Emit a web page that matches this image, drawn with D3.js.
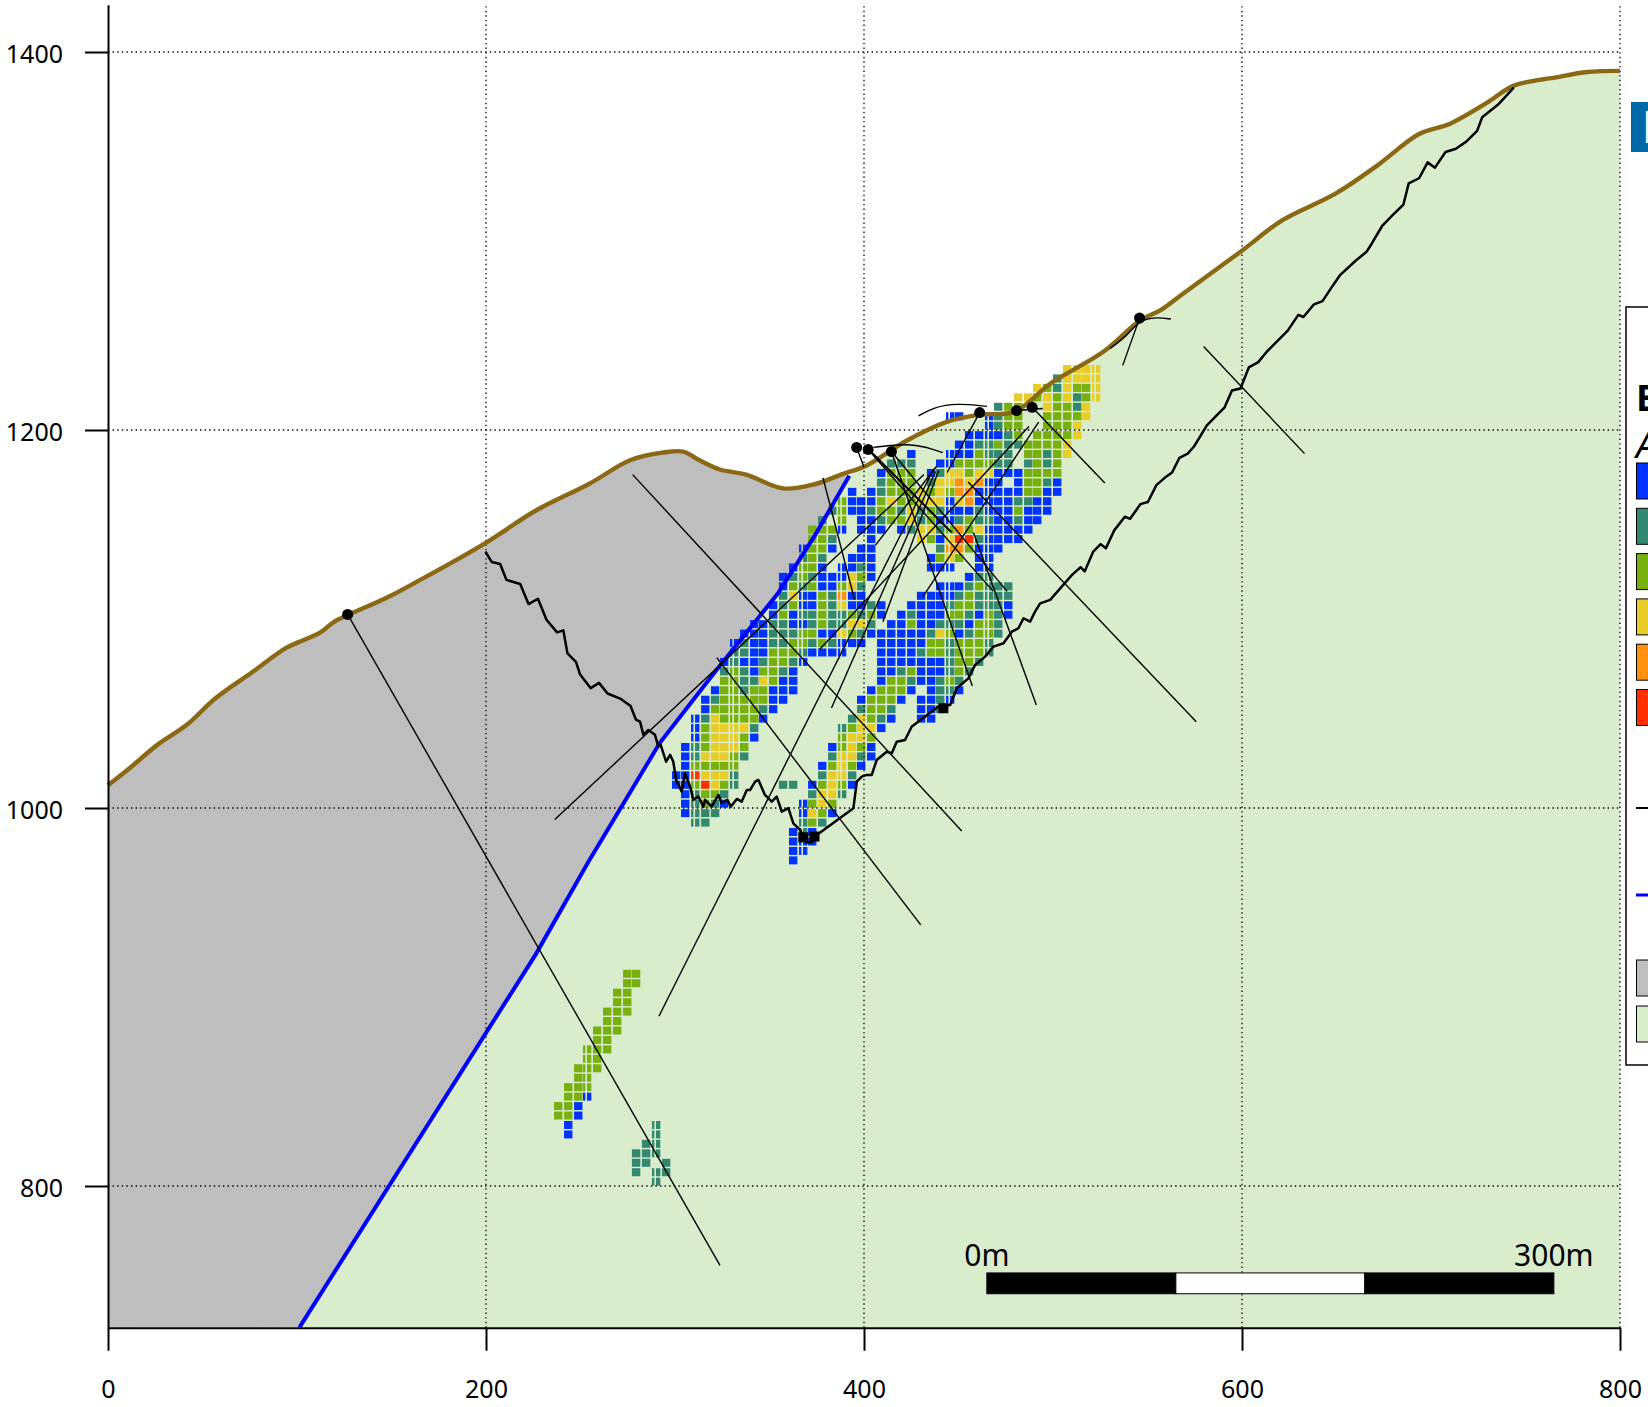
<!DOCTYPE html>
<html>
<head>
<meta charset="utf-8">
<script src="https://d3js.org/d3.v7.min.js"></script>
<style>
html, body { margin: 0; padding: 0; background: #fff; overflow: hidden; }
text { font-family: "Noto Sans", sans-serif; fill: #000; }
</style>
</head>
<body>
<svg id="canvas" width="1648" height="1407"></svg>
<script>
// section axes, metres
var xTicks = [0, 200, 400, 600, 800]
var yTicks = [800, 1000, 1200, 1400]

// ground surface [distance, elevation]
var topography = [[0,1012],[12.2,1021.7],[26.1,1033.4],[41.7,1044],[56.7,1057.9],[76.2,1071.8],[94,1084.6],[101.3,1087.9],[112.4,1092.9],[119.6,1098.5],[126.3,1101.8],[148.5,1111.8],[165.2,1120.7],[199.7,1140.2],[226.4,1157.4],[254.2,1171.3],[276.5,1184.1],[293.2,1188],[304.3,1188.6],[312.7,1184.1],[323.8,1179.1],[337.7,1176.4],[357.2,1169.1],[373.9,1171.3],[387.8,1176.4],[401.7,1181.4],[422.2,1194.2],[443.4,1204.2],[461.2,1208.1],[479.6,1209.7],[499,1224.8],[526.8,1241.5],[546.3,1258.1],[557.4,1263.7],[568.6,1272],[599.2,1294.3],[621.4,1311],[649.2,1324.9],[671.5,1339.9],[693.7,1356.6],[710.4,1362.2],[729.9,1373.3],[743.8,1382.2],[766.1,1386.6],[782.8,1389.4],[800,1390]]

// lithology contact (blue line)
var contact = [[101.3,725.2],[226.4,922.7],[254.2,971.6],[292,1034.5],[321,1071.8],[354.4,1113.5],[373.9,1144],[392.2,1175.8]]

// jagged black trace
var trace = [[199.7,1135.7],[203,1130.2],[207.5,1129.1],[210.8,1120.7],[218.1,1118.5],[222.5,1107.9],[227.5,1110.7],[232,1099.6],[237.6,1092.9],[240.9,1094],[243.1,1081.8],[247.6,1077.3],[249.8,1070.6],[255.4,1063.4],[259.8,1066.2],[264.3,1060.6],[271,1057.9],[276.5,1054],[279.3,1046.8],
  [281.5,1045.7],[283.3,1038.7],[285.9,1041.3],[289.4,1038.7],[291.2,1032.5],[292.4,1033.4],[295.3,1024.5],[297.4,1028.1],[299.1,1024.5],[300.6,1014.8],[303.5,1008.7],[305.3,1018.4],[308,1011.3],[309.7,1004.3],[312.4,1006],[315,1000.7],[315.9,1004.3],[319.4,1000.7],[323,1006.9],[324.7,1002.5],[327.7,1004.3],[329.5,1000.7],[332.7,1004.8],[335.3,1003.4],[338,1009.5],[339.7,1009.5],[342.4,1014],[344.1,1014.9],[347.6,1006.9],[351.2,1003.4],[353.8,1006],[356.5,998.1],[360,999.9],[362.6,991.9],[366.2,988.4],[369.7,981.7],[372.3,981.7],[375,985.7],[394.4,999.9],[396.2,1014],[398.8,1016.6],[401.5,1017.5],[404.1,1017.5],[406.7,1025.4],[412,1029.8],[414.7,1029],[417.3,1035.1],[421.7,1036],[425.3,1043.1],[439.4,1053.7],[445.6,1054.5],[449.1,1063.4],[455.2,1068.6],[458.8,1075.7],[464.1,1080.1],[468.5,1085.4],[473.8,1087.2],[478.2,1093.3],[481.7,1095.1],[484.4,1100.4],[487.9,1098.6],[490.5,1103.9],[493.2,1108.3],[498.5,1110.1],
  [510.2,1123.5],[514.6,1127.4],[516.8,1125.2],[521.3,1135.7],[525.2,1139.6],[528,1137.4],[532.4,1146.9],[538,1154.1],[540.8,1153],[546.3,1160.8],[550.2,1161.9],[554.7,1170.8],[559.1,1174.7],[563,1177.5],[566.9,1185.3],[571.3,1187.5],[574.7,1191.4],[581.4,1202.5],[590.8,1212],[594.7,1220.9],[599.2,1222],[603.6,1233.1],[608.6,1235.9],[613.1,1241.4],[624.2,1252.6],[629.8,1260.9],[632.5,1259.8],[638.1,1266.5],[642.6,1268.2],[648.1,1276.5],[652,1282.1],[660.4,1289.8],[665.9,1294.3],[668.7,1298.7],[674.3,1308.2],[679.8,1313.8],[685.4,1319.3],[688.2,1330.5],[693.7,1333.2],[698.2,1341.6],[702.1,1338.8],[707.7,1347.1],[713.2,1348.8],[718.8,1352.7],[724.4,1358.3],[727.1,1365.5],[735.5,1372.2],[743.8,1381.1]]

// drill holes [x0, y0, x1, y1]
var drillHoles = [[126.8,1102.4,323.8,758],[277.6,1176.4,451.7,987.8],[322.1,1079.6,430,938.2],[236.4,993.9,431.7,1176.4],[291.5,889.8,436.7,1179.1],[378.3,1174.7,395,1110.2],[396.1,1190.8,400,1180.3],[402.2,1189.7,468.4,1114.6],[402.2,1189.7,445.6,1146.3],[403.2,1189.2,446.6,1145.8],[414.5,1188.6,475.7,1114.6],[414.5,1188.6,457.3,1064.5],[461.2,1209.2,444,1177.5],[489,1212,527.4,1171.9],[545.8,1259.2,536.9,1234.2],[579.7,1244.2,633.1,1187.5],[455.1,1172.5,575.8,1045.6],[487.3,1201.9,376.6,1084],[492.4,1204.2,431.2,1111.8],[438.4,1180.8,406.1,1139.1],[439.5,1178.6,410,1098.5],[437.8,1178,382.8,1052.9],[457.9,1145.8,491.2,1054.5]]

// curved traces near the collars
var collarCurves = [
  [[405,1190.8],[413.9,1191.9],[422.8,1192.5],[431.7,1191.4],[441.7,1188]],
  [[428.9,1207.5],[436.7,1212],[449,1214.2],[465.1,1212.5]],
  [[481.2,1210.3],[494.6,1211.4]],
  [[530.2,1243.1],[539.1,1249.8],[545.8,1258.1],[554.7,1259.8],[562.4,1258.7]]
]

var collars = [[126.8,1102.4],[396.1,1190.8],[402.2,1189.7],[414.5,1188.6],[461.2,1209.2],[480.7,1210.3],[489,1212],[545.8,1259.2]]
var blots = [[367.9,984.5],[373.8,984.9],[442,1052.8]]

// block model: column left edges (m), then one [first column, grades] per 5m row, top down
var blockColX = [236,241.3,246.6,251.3,256.6,261.9,267.2,272.5,277.2,282.5,287.8,293.1,298.4,303.2,308.5,313.8,319,323.8,329.1,334.4,339.7,344.4,349.7,355,360.3,365.6,370.4,375.7,381,386.2,391.5,396.3,401.6,406.9,412.2,417.5,422.8,428,433.3,438.1,443.4,448.1,453.4,458.7,464,468.8,474.1,479.4,484.7,489.4,494.7,500,505.3,510.6,515.3,520.6]
var splitCols = [3,10,14,18,25,29,40,44,55]
var blockTop = 1234.4
var blockRows = [
  [52,"yyyy"],
  [51,"tyyyy"],
  [49,"yltylly"],
  [47,"yylylytly"],
  [45,"tll..yllty"],
  [40,"bb..btll..lllly"],
  [44,"btll..llly"],
  [42,"bbbbtl.lllly"],
  [41,"bbttlttlllly"],
  [36,"b...bbblttt.lltly"],
  [34,"ttt..bblllltt.tltl"],
  [33,"blll.btyylyybbbllll"],
  [33,"tlll.tyyoyobb.blltb"],
  [30,"b.btlllylyloobbbbbllbb"],
  [29,"lbbblyllyyybyobbbbttbb"],
  [28,"tlbbtlltytltbbbtbbblbbb"],
  [27,"t.l.bbtllytlbbtlttbbtbb"],
  [26,"lllb.bbb.btyytlolybbbbb"],
  [26,"llt...b....ylbyrrtbbbb"],
  [25,"bllb..bb......toolbbb"],
  [25,"tlt..bbb.....blyl.bb"],
  [24,"bllb.bbtb.....bbb..bb"],
  [23,"btltbbbylb.........btt"],
  [23,"bltlbblyt.......bbbtlttt"],
  [23,"tybbltobb.....bbbbtltttt"],
  [22,"btlbbltybbtb..bbbbtlltttb"],
  [22,"blbttlttltlb.btbbblltbltb"],
  [20,"bbttbbtlttyyt.bblbbtttbllt"],
  [19,"bbbtttllbbyltbbbbbbtylbtllt"],
  [18,"btbbttlltltbbb.bbbbblltlllt"],
  [18,"ttbbllltbbbb...bbbbtlltlllt"],
  [17,"btbbtlltb.......bbbbbbbtllt"],
  [17,"tltblltb........bbtlbbbtlt"],
  [17,"llttylbb........blltbbtlt"],
  [16,"blltllbbb.......blllb.bttb"],
  [15,"btlllllbb.......blllb.bbtb"],
  [15,"bllllltb........tllt..bbt"],
  [14,"btyllllb........tyltb..bb"],
  [14,"blyyyyt........tlyyb"],
  [14,"blyyylb........lyyl"],
  [13,"btlyyyl........blylb"],
  [13,"btyyylt........tyytb"],
  [13,"blllll........blylb"],
  [12,"bbryyyt........tyyt"],
  [12,"bblrylt....tt.blylb"],
  [13,"btllt........tyyt"],
  [13,"btltb.......blyl"],
  [13,"bttt........bylb"],
  [14,"tt.........tlt"],
  [24,"btb"],
  [24,"bbb"],
  [24,"bb"],
  [24,"b"],
  [0,""],[0,""],[0,""],[0,""],[0,""],[0,""],[0,""],[0,""],[0,""],[0,""],[0,""],
  [7,"ll"],
  [7,"ll"],
  [6,"ll"],
  [6,"ll"],
  [5,"lll"],
  [5,"ll"],
  [4,"lll"],
  [4,"ll"],
  [3,"lll"],
  [3,"ll"],
  [2,"lll"],
  [2,"ll"],
  [1,"lll"],
  [1,"llb"],
  [0,"llb"],
  [0,"llb"],
  [1,"b........t"],
  [1,"b........t"],
  [9,"tt"],
  [8,"ttt"],
  [8,"tt.t"],
  [8,"t.tt"],
  [10,"t"]
]

var gradeColors = {b: "#0033ff", t: "#338870", l: "#78b010", y: "#e8cc28", o: "#ff9010", r: "#ff3000"}
var gradeOrder = ["b", "t", "l", "y", "o", "r"]

var scaleBarStart = 465
var scaleBarStep = 100
var scaleBarFills = ["#000", "#fff", "#000"]

var svg = d3.select("#canvas")

var x = d3.scaleLinear().domain([0, 800]).range([108, 1620])
var y = d3.scaleLinear().domain([725, 1425]).range([1327.75, 4.75])

var line = d3.line().x(function(d) { return x(d[0]) }).y(function(d) { return y(d[1]) })
var smooth = d3.line().curve(d3.curveCatmullRom).x(function(d) { return x(d[0]) }).y(function(d) { return y(d[1]) })

// country rock polygons
var grey = [[0, 725]].concat(contact, topography.filter(function(d) { return d[0] < 388 }).reverse())
var green = contact.concat(topography.filter(function(d) { return d[0] >= 388 }), [[800, 725]])

svg.append("path").attr("d", line(grey) + "Z").attr("fill", "#bebebe")
svg.append("path").attr("d", line(green) + "Z").attr("fill", "#d9edcd")

// blocks
var cells = []
blockRows.forEach(function(row, r) {
    row[1].split("").forEach(function(g, i) {
        if (g != ".") cells.push({col: row[0] + i, row: r, grade: g})
    })
})
var cellW = 8.4, cellH = 8, sliver = 2.4, splitGap = 1.6

function cellParts(d) {
    var left = x(blockColX[d.col])
    var top = y(blockTop - 5 * d.row)
    if (splitCols.indexOf(d.col) >= 0) {
        return [{x: left, y: top, w: sliver, grade: d.grade},
                {x: left + sliver + splitGap, y: top, w: cellW - sliver - splitGap, grade: d.grade}]
    }
    return [{x: left, y: top, w: cellW, grade: d.grade}]
}

svg.append("g").selectAll("rect")
    .data(d3.merge(cells.map(cellParts)))
    .enter().append("rect")
    .attr("x", function(d) { return d.x })
    .attr("y", function(d) { return d.y })
    .attr("width", function(d) { return d.w })
    .attr("height", cellH)
    .attr("fill", function(d) { return gradeColors[d.grade] })

// grid
var grid = svg.append("g").attr("stroke", "#000").attr("stroke-width", 1.3).attr("stroke-dasharray", "1.4 3.2")
xTicks.slice(1).forEach(function(t) {
    grid.append("line").attr("x1", x(t)).attr("x2", x(t)).attr("y1", y(725)).attr("y2", y(1425))
})
yTicks.forEach(function(t) {
    grid.append("line").attr("x1", x(0)).attr("x2", x(800)).attr("y1", y(t)).attr("y2", y(t))
})

// contact, surface, trace
svg.append("path").attr("d", line(contact)).attr("fill", "none").attr("stroke", "#0000ff").attr("stroke-width", 4)
svg.append("path").attr("d", smooth(topography)).attr("fill", "none").attr("stroke", "#8b6914").attr("stroke-width", 4.4)
svg.append("path").attr("d", line(trace)).attr("fill", "none").attr("stroke", "#000").attr("stroke-width", 2.5).attr("stroke-linejoin", "round")

// holes
svg.append("g").selectAll("line")
    .data(drillHoles)
    .enter().append("line")
    .attr("x1", function(d) { return x(d[0]) })
    .attr("y1", function(d) { return y(d[1]) })
    .attr("x2", function(d) { return x(d[2]) })
    .attr("y2", function(d) { return y(d[3]) })
    .attr("stroke", "#000")
    .attr("stroke-width", 1.4)

var curveLine = d3.line().curve(d3.curveBasis).x(function(d) { return x(d[0]) }).y(function(d) { return y(d[1]) })
collarCurves.forEach(function(c) {
    svg.append("path").attr("d", curveLine(c)).attr("fill", "none").attr("stroke", "#000").attr("stroke-width", 1.4)
})

svg.append("g").selectAll("circle")
    .data(collars)
    .enter().append("circle")
    .attr("cx", function(d) { return x(d[0]) })
    .attr("cy", function(d) { return y(d[1]) })
    .attr("r", 5.5)
    .attr("fill", "#000")

svg.append("g").selectAll("rect")
    .data(blots)
    .enter().append("rect")
    .attr("x", function(d) { return x(d[0]) - 5 })
    .attr("y", function(d) { return y(d[1]) - 5 })
    .attr("width", 10)
    .attr("height", 10)
    .attr("fill", "#000")

// scale bar
var bar = svg.append("g")
scaleBarFills.forEach(function(f, i) {
    bar.append("rect")
        .attr("x", x(scaleBarStart + i * scaleBarStep))
        .attr("y", y(754))
        .attr("width", x(scaleBarStep) - x(0))
        .attr("height", y(743) - y(754))
        .attr("fill", f)
        .attr("stroke", "#000")
})
bar.append("text").attr("x", x(scaleBarStart)).attr("y", y(757.5)).attr("text-anchor", "middle").attr("font-size", 30).text("0m")
bar.append("text").attr("x", x(scaleBarStart + 3 * scaleBarStep)).attr("y", y(757.5)).attr("text-anchor", "middle").attr("font-size", 30).text("300m")

// axes
var xAxis = d3.axisBottom(x).tickValues(xTicks).tickSize(23).tickSizeOuter(0).tickPadding(29).tickFormat(d3.format("d"))
var yAxis = d3.axisLeft(y).tickValues(yTicks).tickSize(23).tickSizeOuter(0).tickPadding(22).tickFormat(d3.format("d"))

var gx = svg.append("g").attr("transform", "translate(0," + y(725) + ")").call(xAxis)
var gy = svg.append("g").attr("transform", "translate(" + x(0) + ",0)").call(yAxis)
svg.selectAll(".domain, .tick line").attr("stroke", "#000").attr("stroke-width", 2)
svg.selectAll(".tick text").attr("font-size", 25).attr("font-family", '"Noto Sans", sans-serif').attr("fill", "#000")
gy.selectAll(".tick text").attr("dy", "0.4em")

// legend, cut off by the page edge like in the picture
var legend = svg.append("g")
legend.append("rect").attr("x", 1631).attr("y", 102).attr("width", 30).attr("height", 50).attr("fill", "#0068a8")
legend.append("text").attr("x", 1642).attr("y", 143).attr("font-size", 44).attr("font-weight", "bold").style("fill", "#fff").text("E")
legend.append("rect").attr("x", 1626).attr("y", 307).attr("width", 40).attr("height", 758).attr("fill", "#fff").attr("stroke", "#000").attr("stroke-width", 1.5)
legend.append("text").attr("x", 1636).attr("y", 411).attr("font-size", 36).attr("font-weight", "bold").text("E")
legend.append("text").attr("x", 1636).attr("y", 458).attr("font-size", 36).attr("font-style", "italic").text("A")

legend.selectAll(".sw").data(gradeOrder).enter().append("rect")
    .attr("class", "sw")
    .attr("x", 1636.5)
    .attr("y", function(d, i) { return 463 + i * 45.3 })
    .attr("width", 30)
    .attr("height", 36)
    .attr("fill", function(d) { return gradeColors[d] })
    .attr("stroke", "#000")
legend.append("line").attr("x1", 1636).attr("x2", 1660).attr("y1", y(1000)).attr("y2", y(1000)).attr("stroke", "#000").attr("stroke-width", 2)
legend.append("line").attr("x1", 1636).attr("x2", 1660).attr("y1", 895).attr("y2", 895).attr("stroke", "#0000ff").attr("stroke-width", 3)
legend.append("rect").attr("x", 1636.5).attr("y", 960).attr("width", 30).attr("height", 36).attr("fill", "#bebebe").attr("stroke", "#000")
legend.append("rect").attr("x", 1636.5).attr("y", 1006).attr("width", 30).attr("height", 36).attr("fill", "#d9edcd").attr("stroke", "#000")
</script>
</body>
</html>
